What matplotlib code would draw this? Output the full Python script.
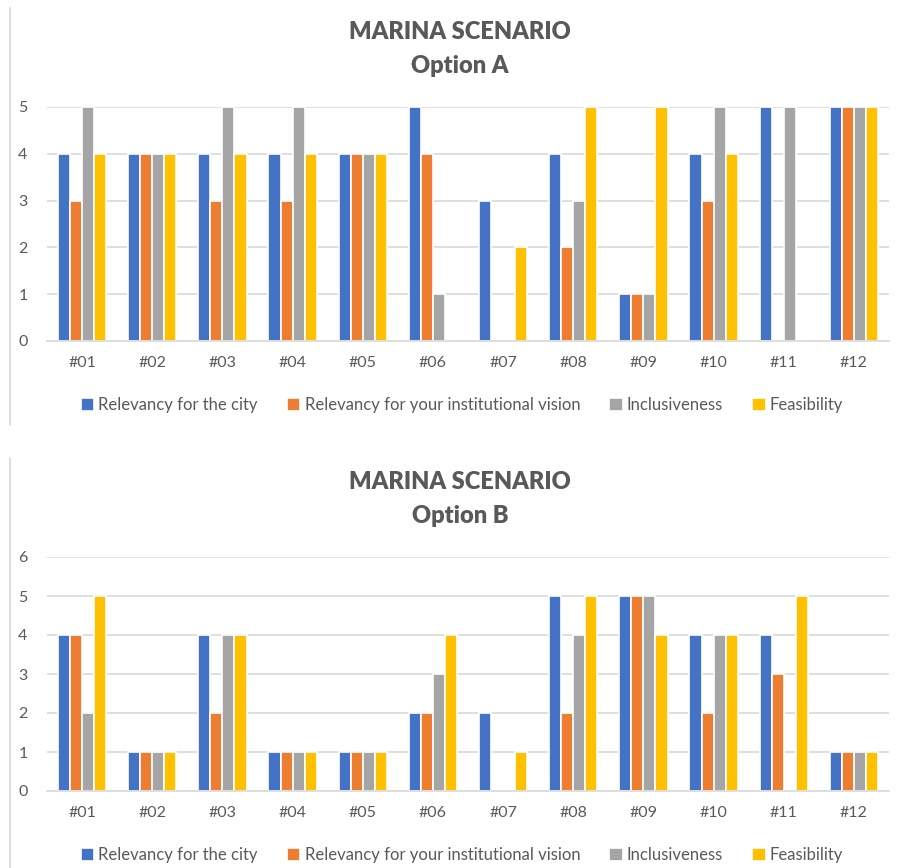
import matplotlib
matplotlib.use("Agg")
import matplotlib.pyplot as plt
from matplotlib.lines import Line2D
import numpy as np

plt.rcParams['font.family'] = ['Lato', 'DejaVu Sans']

categories = ["#01", "#02", "#03", "#04", "#05", "#06", "#07", "#08", "#09", "#10", "#11", "#12"]
series_names = ["Relevancy for the city", "Relevancy for your institutional vision",
                "Inclusiveness", "Feasibility"]
colors = ["#4472C4", "#ED7D31", "#A5A5A5", "#FFC000"]

# Option A
a_city = [4, 4, 4, 4, 4, 5, 3, 4, 1, 4, 5, 5]
a_vision = [3, 4, 3, 3, 4, 4, 0, 2, 1, 3, 0, 5]
a_incl = [5, 4, 5, 5, 4, 1, 0, 3, 1, 5, 5, 5]
a_feas = [4, 4, 4, 4, 4, 0, 2, 5, 5, 4, 0, 5]

# Option B
b_city = [4, 1, 4, 1, 1, 2, 2, 5, 5, 4, 4, 1]
b_vision = [4, 1, 2, 1, 1, 2, 0, 2, 5, 2, 3, 1]
b_incl = [2, 1, 4, 1, 1, 3, 0, 4, 5, 4, 0, 1]
b_feas = [5, 1, 4, 1, 1, 4, 1, 5, 4, 4, 5, 1]

W, H = 902, 868
fig = plt.figure(figsize=(W / 100, H / 100), dpi=100)


def fx(px):
    return px / W


def fy(py):
    return 1 - py / H


def draw(ax_box, data, ymax, title_y1, title_y2, subtitle, legend_y, border):
    left, top, right, bottom = ax_box
    ax = fig.add_axes([fx(left), fy(bottom), fx(right) - fx(left), fy(top) - fy(bottom)])
    x = np.arange(len(categories))
    step = 0.172
    width = 0.172
    for i, (vals, c, name) in enumerate(zip(data, colors, series_names)):
        ax.bar(x + (i - 1.5) * step, vals, width=width, color=c, edgecolor="white",
               linewidth=1.2, label=name, zorder=3)
    ax.set_xlim(-0.5, len(categories) - 0.5)
    ax.set_ylim(0, ymax)
    ax.set_yticks(range(0, ymax + 1))
    ax.set_xticks(x)
    ax.set_xticklabels(categories)
    ax.yaxis.grid(True, color="#d9d9d9", linewidth=1.2, zorder=0)
    ax.set_axisbelow(True)
    for s in ["top", "right", "left"]:
        ax.spines[s].set_visible(False)
    ax.spines["bottom"].set_color("#d9d9d9")
    ax.spines["bottom"].set_linewidth(1.2)
    ax.spines["bottom"].set_zorder(4)
    ax.tick_params(axis="both", length=0, colors="#595959", labelsize=11.5)
    ax.tick_params(axis="x", pad=11)
    ax.tick_params(axis="y", pad=14)
    fig.text(fx(460), fy(title_y1), "MARINA SCENARIO", ha="center", va="center",
             fontsize=17, fontweight="heavy", color="#595959")
    fig.text(fx(460), fy(title_y2), subtitle, ha="center", va="center",
             fontsize=17, fontweight="heavy", color="#595959")
    fig.legend(*ax.get_legend_handles_labels(), loc="center",
               bbox_to_anchor=(fx(462), fy(legend_y)), ncol=4, frameon=False,
               fontsize=12, handlelength=0.8, handleheight=0.8,
               handletextpad=0.25, columnspacing=1.75, labelcolor="#595959")
    fig.add_artist(Line2D([fx(10), fx(10)], [fy(border[0]), fy(border[1])],
                          color="#d9d9d9", linewidth=1.2))
    return ax


draw((47, 107, 889, 341), [a_city, a_vision, a_incl, a_feas], 5, 32, 66, "Option A", 405, (8, 425))
draw((47, 557, 889, 791), [b_city, b_vision, b_incl, b_feas], 6, 482, 516, "Option B", 855, (458, 868))

fig.savefig("out.png", dpi=100)
